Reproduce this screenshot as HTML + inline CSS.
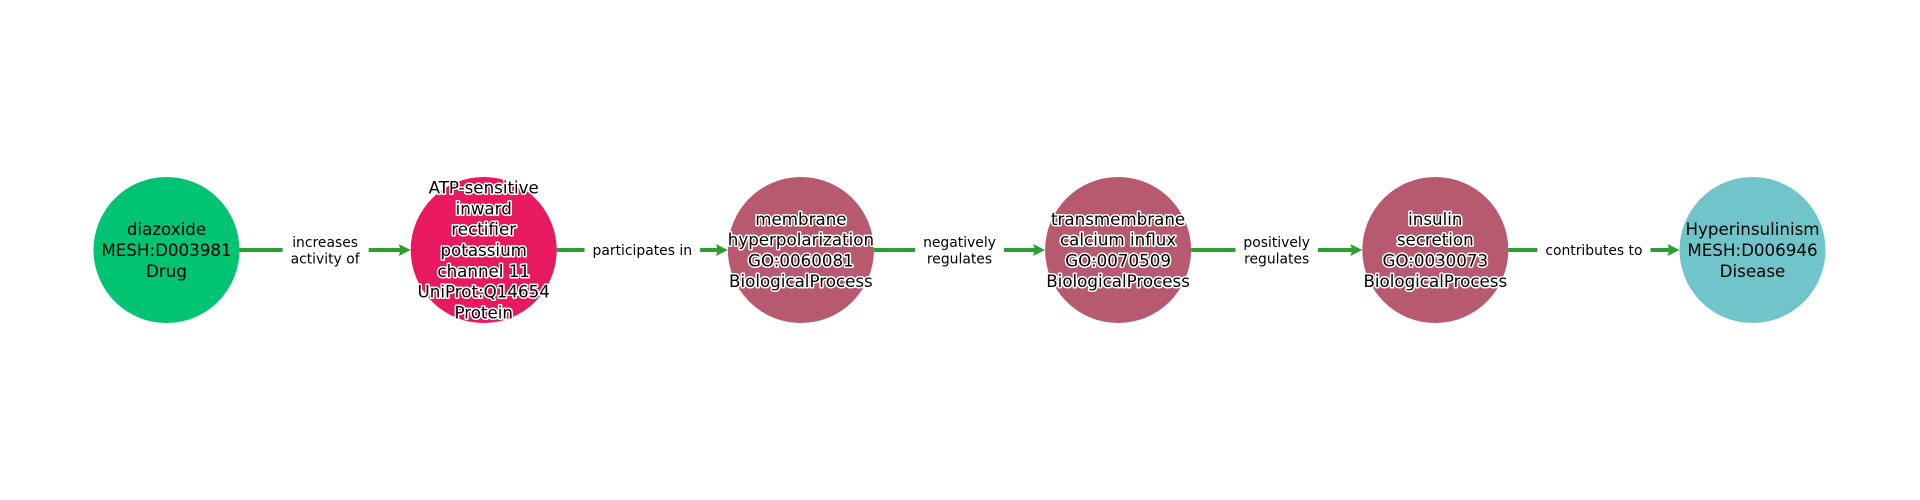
<!DOCTYPE html>
<html><head><meta charset="utf-8"><style>
html,body{margin:0;padding:0;background:#fff;width:1920px;height:500px;overflow:hidden}
svg text{font-family:"DejaVu Sans","Liberation Sans",sans-serif}
</style></head><body>
<svg id="chart" width="1920" height="500" viewBox="0 0 1920 500" xmlns="http://www.w3.org/2000/svg"></svg>
<script>
const nodeLabels = [
  ["diazoxide","MESH:D003981","Drug"],
  ["ATP-sensitive","inward","rectifier","potassium","channel 11","UniProt:Q14654","Protein"],
  ["membrane","hyperpolarization","GO:0060081","BiologicalProcess"],
  ["transmembrane","calcium influx","GO:0070509","BiologicalProcess"],
  ["insulin","secretion","GO:0030073","BiologicalProcess"],
  ["Hyperinsulinism","MESH:D006946","Disease"]
];
const nodeColors = ["#00c472","#e8195f","#b85a6f","#b85a6f","#b85a6f","#70c5cb"];
const nodeHalo = [false,true,true,true,true,false];
const edgeLabels = [["increases","activity of"],["participates in"],["negatively","regulates"],["positively","regulates"],["contributes to"]];
const NS="http://www.w3.org/2000/svg";
const svg=document.getElementById('chart');
const x0=166.5, dx=317.2, cy=250, R=73, lh=20.8;
function xPos(i){return x0+i*dx;}
function mk(t,a){const e=document.createElementNS(NS,t);for(const k in a)e.setAttribute(k,a[k]);return e;}
// edges
edgeLabels.forEach((lab,i)=>{
  const g=mk('g',{});
  
  
  const xs=xPos(i)+R, xe=xPos(i+1)-R;
  g.appendChild(mk('line',{x1:xs,y1:cy,x2:xe-8,y2:cy,stroke:'#2ca02c','stroke-width':4}));
  g.appendChild(mk('path',{d:`M${xe},${cy} L${xe-12},${cy-6} L${xe-10},${cy} L${xe-12},${cy+6} Z`,fill:'#2ca02c'}));
  const mx=(xs+xe)/2;
  const t=mk('text',{x:mx,'text-anchor':'middle','font-size':'13.9px',fill:'#000'});
  
  
  const n=lab.length, lh2=16.5;
  lab.forEach((s,j)=>{const ts=mk('tspan',{x:mx,y:cy+(j-(n-1)/2)*lh2+5});ts.textContent=s;t.appendChild(ts);});
  svg.appendChild(g);
  // background box
  const bb=mk('rect',{fill:'#fff'});
  g.appendChild(bb);g.appendChild(t);
  const b=t.getBBox();
  bb.setAttribute('x',b.x-8);bb.setAttribute('y',b.y-2);bb.setAttribute('width',b.width+16);bb.setAttribute('height',b.height+4);
});
// nodes
nodeLabels.forEach((lab,i)=>{
  const g=mk('g',{});
  
  
  const cx=xPos(i);
  g.appendChild(mk('circle',{cx:cx,cy:cy,r:R,fill:nodeColors[i]}));
  const n=lab.length;
  const attrs={x:cx,'text-anchor':'middle','font-size':'16.7px',fill:'#000'};
  if(nodeHalo[i]){attrs.stroke='#fff';attrs['stroke-width']=3;attrs['paint-order']='stroke';attrs['stroke-linejoin']='round';}
  const t=mk('text',attrs);
  
  
  lab.forEach((s,j)=>{const ts=mk('tspan',{x:cx,y:cy+(j-(n-1)/2)*lh+6});ts.textContent=s;t.appendChild(ts);});
  g.appendChild(t);
  svg.appendChild(g);
});
</script>
</body></html>
